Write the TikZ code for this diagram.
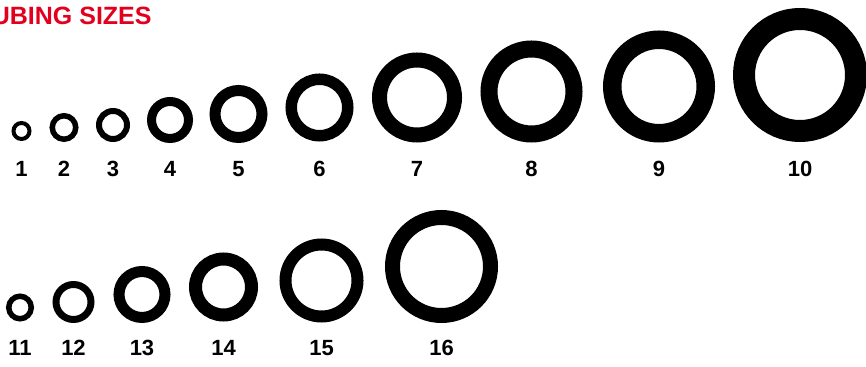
\documentclass[tikz,border=0pt]{standalone}
\usepackage{fontspec}
\setmainfont{Liberation Sans}
\usepackage{xcolor}
\definecolor{titlered}{RGB}{226,0,30}

\begin{document}
\begin{tikzpicture}[
    x=0.5pt, y=-0.5pt,
    ring/.style={draw=black, line width=#1},
    num/.style={font=\fontsize{11}{13}\selectfont\bfseries, inner sep=0pt},
    heading/.style={font=\fontsize{12.5}{15}\selectfont\bfseries, text=titlered, inner sep=0pt}
]
\useasboundingbox (0,0) rectangle (866,367);
\clip (0,0) rectangle (866,367);

\node[heading, anchor=base east] (title) at (152,25) {UBING SIZES};

% first row: number / x / y / outer radius / wall
\foreach \n/\x/\y/\r/\t in {1/21.5/131/10/4, 2/64/127.5/14.5/5.5, 3/113/125/17/6,
    4/170/120/23/9, 5/238.5/114/29/11, 6/319.5/107.5/34/11.5, 7/417/97.5/45/15,
    8/531.5/91.5/51/17, 9/659/86.5/56/18.5, 10/800/75/67/22}
{
    \draw[ring=\t*0.5pt] (\x,\y) circle[radius={(\r-\t/2)*0.5pt}];
    \node[num] (n\n) at (\x,169) {\n};
}

% second row
\foreach \n/\x/\y/\r/\t in {11/20/307.5/14/5.5, 12/73.5/302/21/7, 13/142/294.5/28.5/11,
    14/223.5/287/34.5/13, 15/321.5/280.5/42/12, 16/441.5/266.5/56.5/15}
{
    \draw[ring=\t*0.5pt] (\x,\y) circle[radius={(\r-\t/2)*0.5pt}];
    \node[num] (n\n) at (\x,348) {\n};
}
\end{tikzpicture}
\end{document}
